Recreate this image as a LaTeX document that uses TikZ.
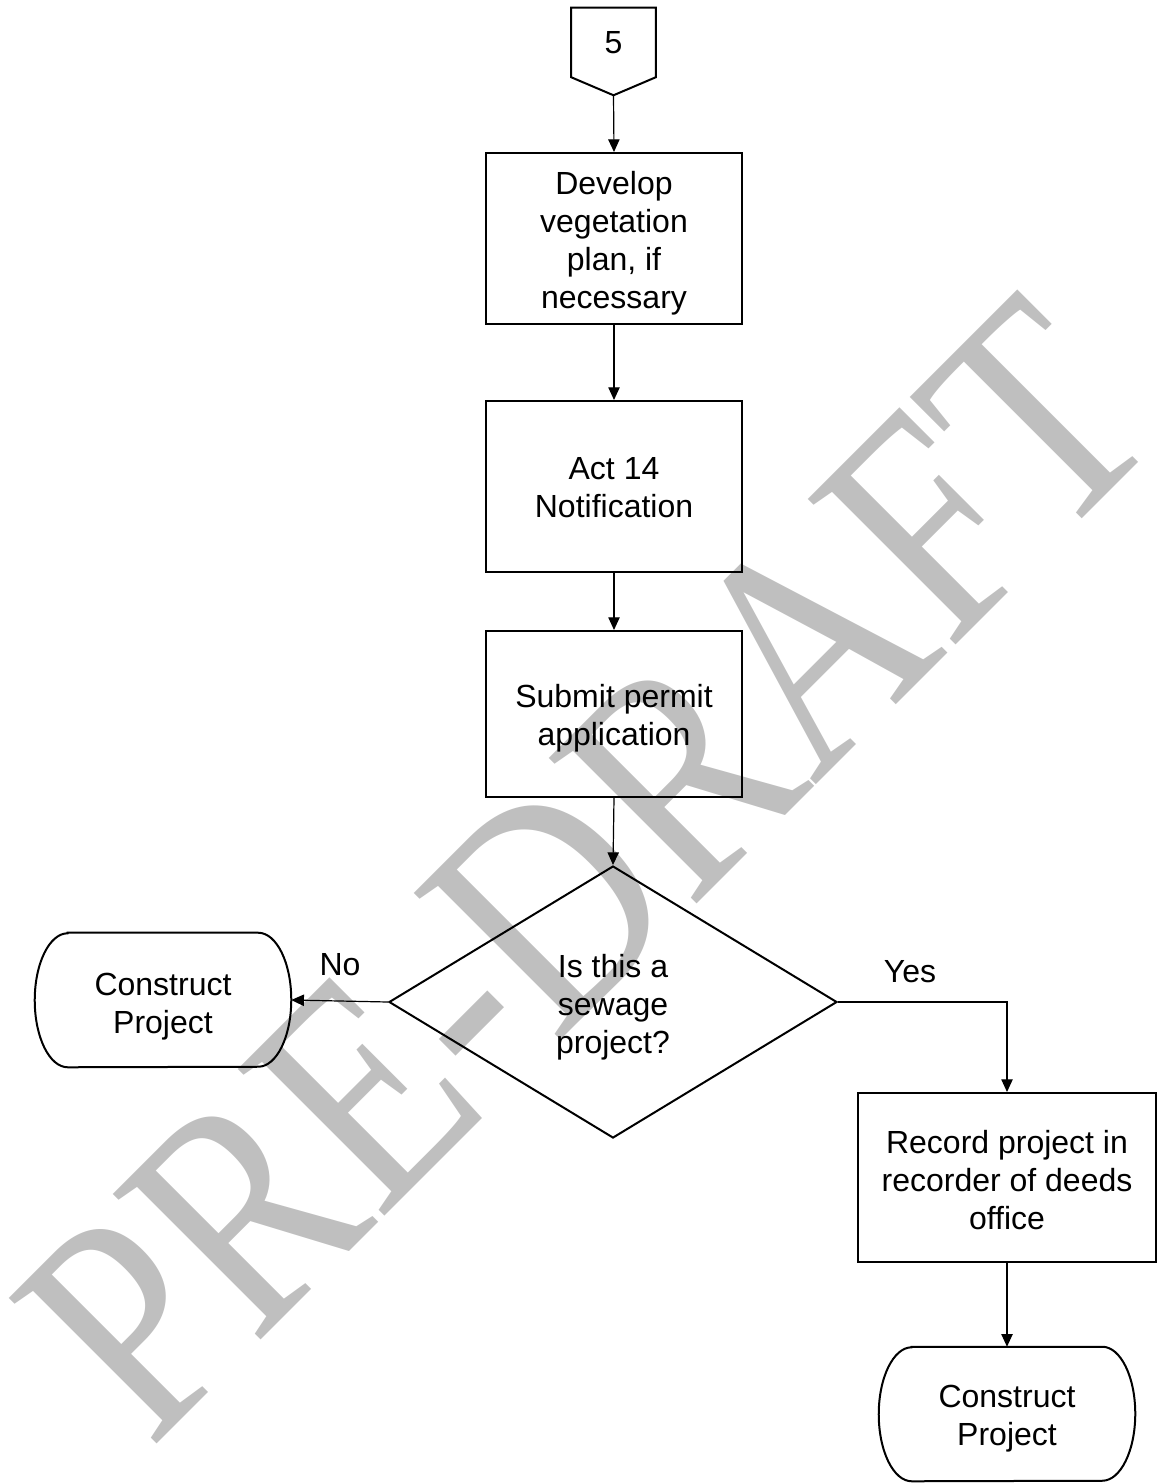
\documentclass[tikz,border=0pt]{standalone}
\usepackage{fontspec}
\setmainfont{Liberation Sans}
\newfontfamily\wmfont[Kerning=Off]{Liberation Serif}
\usetikzlibrary{arrows.meta,shapes.geometric}
\begin{document}
\begin{tikzpicture}[x=0.75pt,y=-0.75pt,
  lbl/.style={font=\fontsize{24}{28.5}\selectfont, align=center, inner sep=0pt},
  stepbox/.style={draw, line width=1.5pt, minimum width=192pt, inner sep=0pt},
  termnode/.style={minimum width=192pt, minimum height=100.5pt, inner sep=0pt},
  decision/.style={diamond, draw, line width=1.5pt, minimum width=336pt, minimum height=204pt, inner sep=0pt},
  conn/.style={line width=0.9pt, -{Triangle[length=9.5pt,width=8.5pt]}},
  shapeline/.style={line width=1.5pt, line join=miter}
]
\useasboundingbox (0,0) rectangle (1159,1484);

% watermark (behind)
\node[rotate=45, yscale=1.2, anchor=base, inner sep=0pt, text=black!25,
      font=\wmfont\fontsize{198}{198}\selectfont] (wm) at (659,942) {PRE-DRAFT};

% off-page connector
\node[lbl, minimum width=63pt, minimum height=51.75pt] (c5) at (613.5,42.5) {5};
\coordinate (c5tip) at ([yshift=-13.5pt]c5.south);
\draw[shapeline] (c5.south west) -- (c5.north west) -- (c5.north east) -- (c5.south east) -- (c5tip) -- cycle;

% process boxes
\node[stepbox, minimum height=128.25pt] (b1) at (614,238.5) {};
\node[lbl] (b1t) at ([yshift=-3.75pt]b1.center) {Develop\\vegetation\\plan, if\\necessary};
\node[stepbox, minimum height=128.25pt] (b2) at (614,486.5) {};
\node[lbl] (b2t) at ([yshift=-0.75pt]b2.center) {Act 14\\Notification};
\node[stepbox, minimum height=124.5pt] (b3) at (614,714) {};
\node[lbl] (b3t) at ([yshift=-3pt]b3.center) {Submit permit\\application};
\node[decision] (dia) at (613,1002) {};
\node[lbl] (diat) at ([yshift=-3.75pt]dia.center) {Is this a\\sewage\\project?};
\node[stepbox, minimum width=223.5pt, minimum height=126.75pt] (b4) at (1007,1177.5) {};
\node[lbl] (b4t) at ([yshift=-2.25pt]b4.center) {Record project in\\recorder of deeds\\office};

% terminators
\node[termnode] (t1) at (163,1000) {};
\node[lbl] (t1t) at ([yshift=-4.9pt]t1.center) {Construct\\Project};
\node[termnode] (t2) at (1007,1414) {};
\node[lbl] (t2t) at ([yshift=-3.4pt]t2.center) {Construct\\Project};
\foreach \t in {t1,t2}{
  \draw[shapeline] ([xshift=24.75pt]\t.north west) -- ([xshift=-24.75pt]\t.north east)
     arc[start angle=90, end angle=-90, x radius=24.75pt, y radius=50.25pt]
     -- ([xshift=24.75pt]\t.south west)
     arc[start angle=270, end angle=90, x radius=24.75pt, y radius=50.25pt] -- cycle;
}

% connectors
\draw[conn] (c5tip) -- (b1.north);
\draw[conn] (b1.south) -- (b2.north);
\draw[conn] (b2.south) -- (b3.north);
\draw[conn] (b3.south) -- (dia.north);
\draw[conn] (dia.west) -- (t1.east);
\draw[conn] (dia.east) -| (b4.north);
\draw[conn] (b4.south) -- (t2.north);

% branch labels
\node[lbl] (lno) at (340,965) {No};
\node[lbl] (lyes) at (910,972) {Yes};
\end{tikzpicture}
\end{document}
